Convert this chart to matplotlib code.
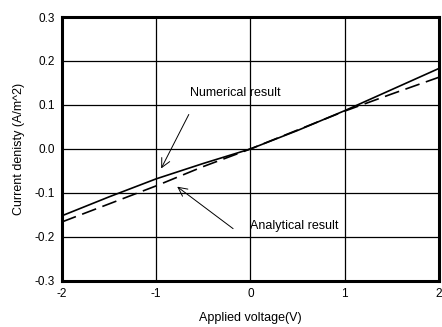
import numpy as np
import matplotlib
matplotlib.use("Agg")
import matplotlib.pyplot as plt

plt.rcParams['font.family'] = ['Liberation Sans', 'DejaVu Sans']

# applied voltage (V) and current density (A/m^2)
volt = [-2.0, -1.5, -1.0, -0.5, 0.0, 0.5, 1.0, 1.5, 2.0]
numerical = [-0.152, -0.109, -0.068, -0.033, 0.0, 0.042, 0.087, 0.135, 0.183]
analytical = [-0.166, -0.125, -0.084, -0.040, 0.0, 0.043, 0.086, 0.125, 0.163]

fig = plt.figure(figsize=(4.42, 3.27), dpi=100)
ax = fig.add_axes([0.140, 0.141, 0.853, 0.807])

ax.plot(volt, numerical, 'k-', lw=1.2)
ax.plot(volt, analytical, 'k-', lw=1.2, dashes=(9, 4))

ax.set_xlim(-2, 2)
ax.set_ylim(-0.3, 0.3)
ax.set_xticks([-2, -1, 0, 1, 2])
ax.set_xticklabels(['-2', '-1', '0', '1', '2'])
ax.set_yticks(np.arange(-0.3, 0.31, 0.1))
ax.set_yticklabels(['-0.3', '-0.2', '-0.1', '0.0', '0.1', '0.2', '0.3'])
ax.grid(True, color='k', lw=0.9)
ax.tick_params(labelsize=8.5, length=0, pad=5)
for s in ax.spines.values():
    s.set_linewidth(2.2)

ax.set_xlabel('Applied voltage(V)', fontsize=9, labelpad=9)
ax.set_ylabel('Current denisty (A/m^2)', fontsize=9, labelpad=7)

arrow = dict(arrowstyle='->', color='k', lw=0.7, mutation_scale=16)
ax.annotate('', xy=(-0.96, -0.05), xytext=(-0.64, 0.084), arrowprops=arrow)
ax.text(-0.64, 0.127, 'Numerical result', fontsize=9, va='center')
ax.annotate('', xy=(-0.8, -0.082), xytext=(-0.16, -0.185), arrowprops=arrow)
ax.text(0.0, -0.175, 'Analytical result', fontsize=9, va='center')

fig.savefig('out.png', dpi=100)
